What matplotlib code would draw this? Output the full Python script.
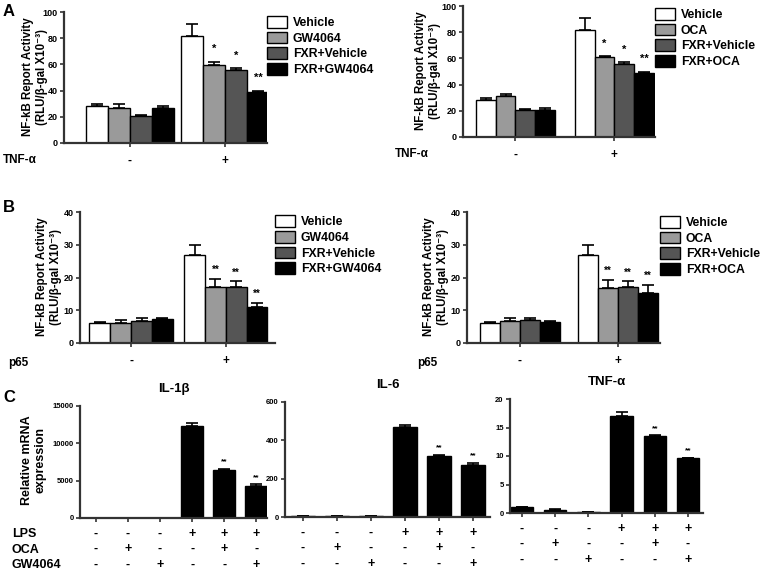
import matplotlib
matplotlib.use("Agg")
import matplotlib.pyplot as plt
import numpy as np

plt.rcParams['font.family'] = ['Liberation Sans', 'DejaVu Sans']
plt.rcParams['font.weight'] = 'bold'

W, H = 766, 572

# ---- datos ----
colores = ['white', '#9a9a9a', '#555555', 'black']

leyenda_gw = ['Vehicle', 'GW4064', 'FXR+Vehicle', 'FXR+GW4064']
leyenda_oca = ['Vehicle', 'OCA', 'FXR+Vehicle', 'FXR+OCA']

a_gw_menos = [28.5, 26.5, 20.5, 27.0]
a_gw_menos_err = [1.0, 3.5, 0.5, 1.5]
a_gw_mas = [82.0, 59.5, 56.0, 39.0]
a_gw_mas_err = [9.0, 2.5, 1.0, 0.6]
a_gw_sig = ['', '*', '*', '**']

a_oca_menos = [28.5, 31.5, 20.5, 20.5]
a_oca_menos_err = [1.5, 1.5, 0.5, 1.5]
a_oca_mas = [82.0, 61.0, 56.0, 49.0]
a_oca_mas_err = [9.0, 0.6, 1.0, 0.5]
a_oca_sig = ['', '*', '*', '**']

b_gw_menos = [6.0, 6.2, 6.8, 7.3]
b_gw_menos_err = [0.5, 0.8, 0.9, 0.3]
b_gw_mas = [27.0, 17.0, 17.2, 11.0]
b_gw_mas_err = [2.8, 2.5, 1.6, 1.2]
b_gw_sig = ['', '**', '**', '**']

b_oca_menos = [6.0, 6.8, 6.9, 6.5]
b_oca_menos_err = [0.5, 0.9, 0.8, 0.3]
b_oca_mas = [27.0, 16.8, 17.2, 15.3]
b_oca_mas_err = [2.8, 2.5, 1.6, 2.4]
b_oca_sig = ['', '**', '**', '**']

c_lps = ['-', '-', '-', '+', '+', '+']
c_oca = ['-', '+', '-', '-', '+', '-']
c_gw = ['-', '-', '+', '-', '-', '+']
c_sig = ['', '', '', '', '**', '**']

il1b = [20, 20, 20, 12300, 6450, 4350]
il1b_err = [0, 0, 0, 400, 100, 150]
il6 = [3, 3, 3, 468, 318, 270]
il6_err = [0, 0, 0, 10, 5, 12]
tnf = [1.0, 0.6, 0.2, 17.0, 13.5, 9.6]
tnf_err = [0.05, 0.05, 0.02, 0.7, 0.1, 0.1]


def caja(x0, y0, x1, y1):
    # pixeles -> fraccion de figura
    return [x0 / W, 1 - y1 / H, (x1 - x0) / W, (y1 - y0) / H]


def estilo(ax, tam=6.5):
    for s in ['top', 'right']:
        ax.spines[s].set_visible(False)
    for s in ['left', 'bottom']:
        ax.spines[s].set_linewidth(1.6)
        ax.spines[s].set_color('#333333')
    ax.tick_params(direction='out', length=3, width=1.2, color='#333333',
                   labelsize=tam, pad=1.5)
    for t in ax.get_yticklabels():
        t.set_fontweight('bold')


fig = plt.figure(figsize=(W / 100, H / 100), dpi=100)


def panel_reporter(rect, menos, menos_err, mas, mas_err, sig, etiquetas,
                   w, xlim, ymax, paso, leg_xy, fila, fila_x, star_fs, star_off):
    ax = fig.add_axes(caja(*rect))
    offs = (np.arange(4) - 1.5) * w
    for i in range(4):
        xs = np.array([0, 1]) + offs[i]
        vals = [menos[i], mas[i]]
        errs = [menos_err[i], mas_err[i]]
        ax.bar(xs, vals, width=w, color=colores[i], edgecolor='black',
               linewidth=1.0, label=etiquetas[i], zorder=2)
        ax.errorbar(xs, vals, yerr=[[0, 0], errs], fmt='none', ecolor='black',
                    elinewidth=1.2, capsize=4, capthick=1.2, zorder=1)
        if sig[i]:
            ax.text(xs[1], mas[i] + mas_err[i] + ymax * star_off, sig[i],
                    ha='center', va='bottom', fontsize=star_fs,
                    fontweight='bold')
    ax.set_xlim(*xlim)
    ax.set_ylim(0, ymax)
    ax.set_yticks(np.arange(0, ymax + 1, paso))
    ax.set_xticks([0, 1])
    ax.set_xticklabels([])
    estilo(ax)
    for xc, s in zip([0, 1], ['-', '+']):
        ax.annotate(s, xy=(xc, 0), xycoords=('data', 'axes fraction'),
                    xytext=(0, -13), textcoords='offset points',
                    ha='center', va='center', fontsize=8.5, fontweight='bold')
    fig.text(fila_x / W, 1 - fila[1] / H, fila[0], ha='left', va='center',
             fontsize=8.5, fontweight='bold')
    ax.legend(loc='upper left', bbox_to_anchor=leg_xy, frameon=False,
              handlelength=1.6, handleheight=1.1, borderpad=0,
              labelspacing=0.22, handletextpad=0.5, borderaxespad=0,
              prop={'weight': 'bold', 'size': 8.8})
    return ax


def ylabel_fig(x, y, texto, tam=8.3, ls=1.2):
    fig.text(x / W, 1 - y / H, texto, rotation=90, ha='center', va='center',
             fontsize=tam, fontweight='bold', linespacing=ls)


etiqueta_nf = 'NF-kB Report Activity\n(RLU/β-gal X10⁻³)'

# A
panel_reporter((64, 12, 267, 143), a_gw_menos, a_gw_menos_err, a_gw_mas,
               a_gw_mas_err, a_gw_sig, leyenda_gw, 0.23, (-0.69, 1.44),
               100, 20, (1.0, 0.97), ('TNF-α', 160), 3, 8, 0.06)
ylabel_fig(35, 77, etiqueta_nf)
panel_reporter((463, 6, 655, 137), a_oca_menos, a_oca_menos_err,
               a_oca_mas, a_oca_mas_err, a_oca_sig, leyenda_oca, 0.2,
               (-0.53, 1.41), 100, 20, (1.0, 0.985), ('TNF-α', 154), 395, 8,
               0.06)
ylabel_fig(428, 71, etiqueta_nf)

# B
panel_reporter((80, 212, 275, 343), b_gw_menos, b_gw_menos_err, b_gw_mas,
               b_gw_mas_err, b_gw_sig, leyenda_gw, 0.22, (-0.54, 1.52),
               40, 10, (1.0, 0.975), ('p65', 363), 8, 7, 0.03)
ylabel_fig(49, 277, etiqueta_nf)
panel_reporter((467, 212, 660, 343), b_oca_menos, b_oca_menos_err,
               b_oca_mas, b_oca_mas_err, b_oca_sig, leyenda_oca, 0.205,
               (-0.54, 1.43), 40, 10, (1.0, 0.97), ('p65', 363), 417, 7, 0.03)
ylabel_fig(436, 277, etiqueta_nf)


# C
def panel_c(rect, vals, errs, titulo, xlim, ymax, ticks):
    ax = fig.add_axes(caja(*rect))
    x = np.arange(6)
    ax.bar(x, vals, width=0.68, color='black', edgecolor='black', zorder=2)
    ax.errorbar(x, vals, yerr=[np.zeros(6), errs], fmt='none', ecolor='black',
                elinewidth=1.2, capsize=4, capthick=1.2, zorder=1)
    for i in range(6):
        if c_sig[i]:
            ax.text(x[i], vals[i] + errs[i] + ymax * 0.03, c_sig[i],
                    ha='center', va='bottom', fontsize=6, fontweight='bold')
    ax.set_xlim(*xlim)
    ax.set_ylim(0, ymax)
    ax.set_yticks(ticks)
    ax.set_xticks(x)
    ax.set_xticklabels([])
    estilo(ax, 5.5)
    ax.set_title(titulo, fontsize=9.5, fontweight='bold', pad=10)
    for k, fila in enumerate([c_lps, c_oca, c_gw]):
        for i in range(6):
            ax.annotate(fila[i], xy=(x[i], 0),
                        xycoords=('data', 'axes fraction'),
                        xytext=(0, -11.5 - k * 11), textcoords='offset points',
                        ha='center', va='center', fontsize=9,
                        fontweight='bold')
    return ax


panel_c((80, 406, 267, 518), il1b, il1b_err, 'IL-1β', (-0.5, 5.34), 15000,
        [0, 5000, 10000, 15000])
panel_c((285, 402, 490, 517), il6, il6_err, 'IL-6', (-0.53, 5.5), 600,
        [0, 200, 400, 600])
panel_c((510, 399, 703, 513), tnf, tnf_err, 'TNF-α', (-0.36, 5.45), 20,
        [0, 5, 10, 15, 20])
ylabel_fig(34, 460, 'Relative mRNA\nexpression', 9, 1.2)
for lbl, yy in zip(['LPS', 'OCA', 'GW4064'], [534, 550, 565]):
    fig.text(12 / W, 1 - yy / H, lbl, ha='left', va='center', fontsize=9,
             fontweight='bold')

# letras de panel
for letra, yy in zip(['A', 'B', 'C'], [12, 207, 398]):
    fig.text(3 / W, 1 - yy / H, letra, ha='left', va='center', fontsize=12,
             fontweight='bold')

plt.savefig('out.png', dpi=100)
